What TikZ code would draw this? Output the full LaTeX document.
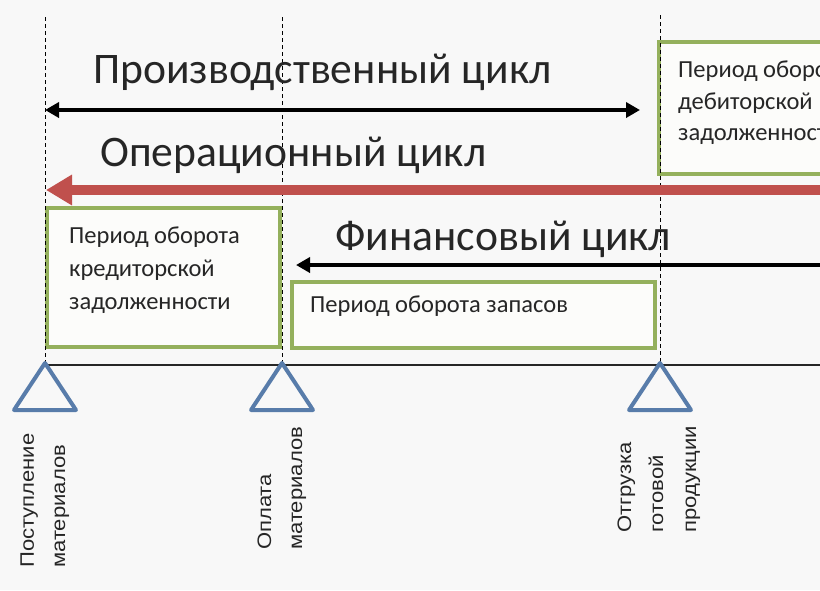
\documentclass[tikz,border=0pt]{standalone}
\usepackage{fontspec}
\setmainfont{Carlito}
\newfontfamily\labfont{Liberation Sans}
\usetikzlibrary{arrows.meta}
\definecolor{bgc}{RGB}{248,248,248}
\definecolor{boxgreen}{RGB}{148,176,92}
\definecolor{boxfill}{RGB}{252,252,250}
\definecolor{arrred}{RGB}{192,80,77}
\definecolor{triblue}{RGB}{88,124,170}
\tikzset{
  dashline/.style={black, line width=1pt, dash pattern=on 4pt off 3pt},
  periodbox/.style={draw=boxgreen, fill=boxfill, line width=4pt, inner sep=0pt, outer sep=0pt, anchor=north west},
  cycletitle/.style={font=\fontsize{43.6}{50}\selectfont, anchor=base west, inner sep=0pt, text=black!85},
  boxtext/.style={font=\fontsize{24.5}{28}\selectfont, anchor=base west, inner sep=0pt, text=black!85},
  eventlabel/.style={font=\labfont\fontsize{19.5}{22}\selectfont, rotate=90, anchor=base west, inner sep=0pt, text=black!85},
  blackarrow/.style={black, line width=4pt, -{Triangle[length=14pt,width=15pt]}},
  redarrow/.style={arrred, line width=10pt, -{Triangle[length=26pt,width=29pt]}},
  eventtri/.style={draw=triblue, line width=4pt, line join=round, fill=bgc},
  axisline/.style={black!85, line width=1.3pt}
}
\newcommand{\stretchlab}[1]{\scalebox{1.13}[1]{#1}}
\begin{document}
\begin{tikzpicture}[x=1pt,y=-1pt]
\fill[bgc] (0,0) rectangle (820,590);
\useasboundingbox (0,0) rectangle (820,590);
\begin{scope}
\clip (0,0) rectangle (820,590);
% event points and dashed guides
\coordinate (e1) at (45,365);
\coordinate (e2) at (282,365);
\coordinate (e3) at (660,365);
\coordinate (g1) at (45,17);
\coordinate (g2) at (282,17);
\coordinate (g3) at (660,15);
\coordinate (axisend) at (822,365);
% boxes
\node[periodbox, minimum width=233pt, minimum height=139pt] (kred) at (47,208) {};
\node[periodbox, minimum width=363pt, minimum height=66pt] (zap) at (292,282) {};
\node[periodbox, minimum width=200pt, minimum height=132pt] (deb) at (659,42) {};
\draw[dashline] (g1) -- (e1);
\draw[dashline] (g2) -- (e2);
\draw[dashline] (g3) -- (e3);
% titles
\node[cycletitle] (prod) at (93,83) {Производственный цикл};
\node[cycletitle] (oper) at (100,166) {Операционный цикл};
\node[cycletitle] (fin) at (335,250) {Финансовый цикл};
% arrows
\coordinate (pl) at (45,110);
\coordinate (pr) at (640,110);
\draw[blackarrow, {Triangle[length=14pt,width=15pt]}-{Triangle[length=14pt,width=15pt]}] (pl) -- (pr);
\coordinate (ol) at (46,190);
\coordinate (or) at (822,190);
\draw[redarrow] (or) -- (ol);
\coordinate (fl) at (296,265);
\coordinate (fr) at (822,265);
\draw[blackarrow] (fr) -- (fl);
% box texts
\node[boxtext] (k1) at (69,243) {Период оборота};
\node[boxtext] (k2) at (69,276) {кредиторской};
\node[boxtext] (k3) at (69,309) {задолженности};
\node[boxtext] (z1) at (310,312) {Период оборота запасов};
\node[boxtext] (d1) at (678,77) {Период оборота};
\node[boxtext] (d2) at (678,109) {дебиторской};
\node[boxtext] (d3) at (678,140) {задолженности};
% axis
\draw[axisline] (e1) -- (axisend);
\draw[eventtri] (45,363) -- (76,410) -- (14,410) -- cycle;
\draw[eventtri] (282,363) -- (313,410) -- (251,410) -- cycle;
\draw[eventtri] (660,363) -- (691,410) -- (629,410) -- cycle;
% event labels
\node[eventlabel] (l1a) at (34,568) {\stretchlab{Поступление}};
\node[eventlabel] (l1b) at (65,568) {\stretchlab{материалов}};
\node[eventlabel] (l2a) at (271,550) {\stretchlab{Оплата}};
\node[eventlabel] (l2b) at (302,550) {\stretchlab{материалов}};
\node[eventlabel] (l3a) at (631,533) {\stretchlab{Отгрузка}};
\node[eventlabel] (l3b) at (663,533) {\stretchlab{готовой}};
\node[eventlabel] (l3c) at (696,533) {\stretchlab{продукции}};
\end{scope}
\end{tikzpicture}
\end{document}
